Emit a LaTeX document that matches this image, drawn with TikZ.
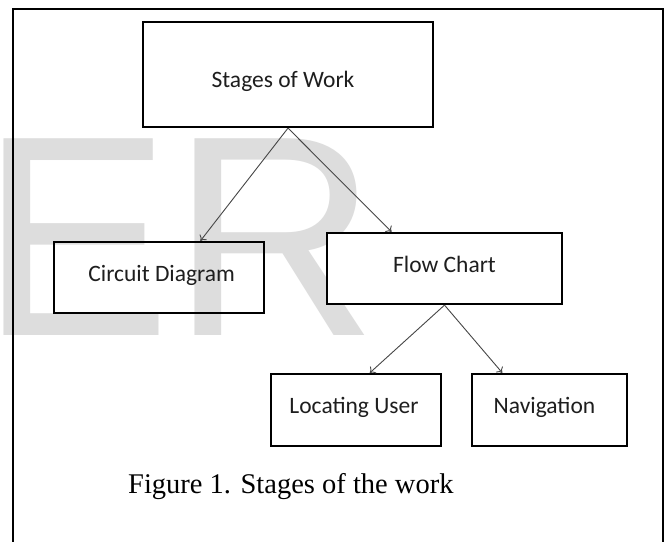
\documentclass[tikz,border=0pt]{standalone}
\usepackage{fontspec}
\setmainfont{Carlito}
\newfontfamily\wmfont{Liberation Sans}
\newfontfamily\capfont{Liberation Serif}
\usetikzlibrary{arrows.meta,calc}
\definecolor{wmgray}{RGB}{221,221,221}
\definecolor{arrowgray}{RGB}{70,70,70}
\definecolor{textdark}{RGB}{30,30,30}
\newcommand{\tsh}[2]{\hspace*{#1}#2\hspace*{-#1}}
\tikzset{
  box/.style={draw=black, line width=2.2bp, fill=white, inner sep=0pt,
    font=\fontsize{23.5bp}{26bp}\selectfont, text=textdark, text depth=0pt},
  conn/.style={draw=arrowgray, line width=0.9bp, -{To[length=5bp,width=9bp]}},
  frame/.style={draw=black, line width=2.2bp},
}
\begin{document}
\begin{tikzpicture}[x=1bp,y=-1bp]
\clip (0,0) rectangle (667,542);
\fill[white] (0,0) rectangle (667,542);
% watermark
\node[anchor=base west, inner sep=0pt, text=wmgray,
  font=\wmfont\fontsize{286bp}{286bp}\selectfont] (wm) at (-19.6,335) {ER};
% outer frame
\coordinate (fbl) at (13,560);
\coordinate (ftl) at (13,9);
\coordinate (ftr) at (663,9);
\coordinate (fbr) at (663,560);
\draw[frame] (fbl) -- (ftl) -- (ftr) -- (fbr);
% boxes
\node[box, minimum width=290bp, minimum height=105bp, text height=25.6bp] (top) at (288,74.5) {\tsh{-5bp}{Stages of Work}};
\node[box, fill=none, minimum width=210bp, minimum height=71bp, text height=8.4bp] (circ) at (159,277.5) {\tsh{2.7bp}{Circuit Diagram}};
\node[box, minimum width=235bp, minimum height=71bp, text height=8.4bp] (flow) at (444.5,268.5) {Flow Chart};
\node[box, minimum width=170bp, minimum height=72bp, text height=6.6bp] (loc) at (356,410) {\tsh{-2bp}{Locating User}};
\node[box, minimum width=155bp, minimum height=72bp, text height=6.6bp] (nav) at (549.5,410) {\tsh{-5bp}{Navigation}};
% connectors
\draw[conn] (top.south) -- ($(circ.north west)!0.695!(circ.north east)$);
\draw[conn] (top.south) -- ($(flow.north west)!0.277!(flow.north east)$);
\draw[conn] (flow.south) -- ($(loc.north west)!0.58!(loc.north east)$);
\draw[conn] (flow.south) -- ($(nav.north west)!0.2!(nav.north east)$);
% caption
\node[anchor=base west, inner sep=0pt, font=\capfont\fontsize{28.5bp}{30bp}\selectfont] (cap) at (128,493) {Figure 1. Stages of the work};
\end{tikzpicture}
\end{document}
